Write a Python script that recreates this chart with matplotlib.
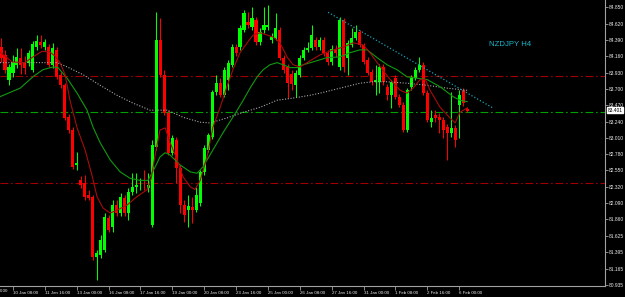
import matplotlib
matplotlib.use("Agg")
import matplotlib.pyplot as plt
import matplotlib.transforms as mtransforms
import numpy as np

# ---------------- data ----------------
opens = [84.29, 84.18, 83.83, 83.92, 84.04, 84.14, 84.08, 84.07, 83.97, 84.29,
         84.36, 84.29, 84.29, 84.04, 84.25, 83.90, 83.75, 83.30, 83.12, 82.63,
         82.41, 82.37, 82.20, 82.18, 81.33, 81.36, 81.43, 81.88, 81.75, 82.06,
         81.95, 82.16, 81.95, 82.25, 82.32, 82.33, 82.34, 82.30, 81.78, 82.88,
         84.39, 83.90, 83.36, 82.80, 82.98, 82.58, 82.06, 81.99, 82.03, 81.99,
         82.09, 82.53, 82.84, 83.02, 83.66, 83.78, 83.61, 83.83, 84.04, 84.29,
         84.29, 84.53, 84.64, 84.57, 84.67, 84.36, 84.53, 84.57, 84.39, 84.42,
         84.53, 84.14, 84.01, 83.91, 83.75, 83.90, 84.14, 84.25, 84.28, 84.39,
         84.29, 84.39, 84.21, 84.08, 84.26, 84.01, 84.67, 84.14, 84.32, 84.42,
         84.50, 84.32, 84.11, 83.94, 83.80, 83.80, 84.01, 83.73, 83.61, 83.85,
         83.59, 83.47, 83.12, 83.73, 83.85, 83.97, 84.04, 83.64, 83.23, 83.33,
         83.30, 83.26, 83.16, 83.08, 83.15, 83.47, 83.68, 83.42]
highs = [84.42, 84.25, 84.05, 84.18, 84.28, 84.28, 84.16, 84.25, 84.37, 84.46,
         84.46, 84.40, 84.33, 84.35, 84.29, 83.94, 83.78, 83.35, 83.16, 82.81,
         82.47, 82.49, 82.28, 82.20, 81.43, 81.64, 81.95, 81.92, 82.13, 82.13,
         82.23, 82.20, 82.30, 82.51, 82.51, 82.44, 82.56, 82.51, 82.98, 84.78,
         84.70, 83.97, 83.40, 83.05, 83.02, 82.63, 82.13, 82.20, 82.18, 82.32,
         82.56, 82.91, 83.08, 83.68, 83.90, 83.85, 84.01, 84.11, 84.33, 84.33,
         84.60, 84.81, 84.78, 84.85, 84.71, 84.56, 84.85, 84.88, 84.49, 84.77,
         84.57, 84.18, 84.05, 83.97, 83.97, 84.18, 84.29, 84.36, 84.60, 84.43,
         84.43, 84.43, 84.25, 84.32, 84.32, 84.71, 84.70, 84.39, 84.56, 84.60,
         84.53, 84.35, 84.15, 83.98, 84.04, 84.05, 84.05, 83.77, 83.83, 83.90,
         83.63, 83.52, 83.71, 83.90, 84.01, 84.15, 84.08, 83.68, 83.40, 83.40,
         83.36, 83.30, 83.20, 83.66, 83.19, 83.68, 83.71, 83.44]
lows = [84.08, 83.92, 83.75, 83.87, 84.00, 83.91, 83.91, 84.02, 83.94, 84.25,
        84.28, 84.25, 84.01, 84.00, 83.84, 83.71, 83.26, 83.08, 82.57, 82.56,
        82.30, 82.13, 82.13, 81.29, 81.00, 81.32, 81.40, 81.68, 81.68, 81.91,
        81.91, 81.91, 81.85, 82.20, 82.23, 82.28, 82.28, 82.25, 81.75, 82.84,
        83.87, 83.33, 82.77, 82.77, 82.37, 81.95, 81.82, 81.75, 81.81, 81.96,
        82.05, 82.49, 82.81, 82.99, 83.61, 83.59, 83.59, 83.68, 84.01, 84.16,
        84.25, 84.50, 84.56, 84.53, 84.32, 84.32, 84.49, 84.53, 84.35, 84.39,
        84.11, 83.92, 83.57, 83.68, 83.59, 83.87, 84.11, 84.22, 84.25, 84.25,
        84.25, 84.16, 84.04, 84.04, 84.15, 83.97, 83.94, 83.90, 84.29, 84.39,
        84.29, 84.05, 83.90, 83.75, 83.61, 83.64, 83.75, 83.54, 83.43, 83.56,
        83.44, 83.09, 83.09, 83.68, 83.83, 83.94, 83.61, 83.23, 83.16, 83.23,
        83.08, 83.01, 82.70, 83.02, 82.88, 83.01, 83.46, 83.37]
closes = [84.14, 83.97, 84.01, 84.08, 84.15, 84.04, 84.00, 84.21, 84.33, 84.37,
          84.32, 84.36, 84.04, 84.28, 83.87, 83.75, 83.29, 83.12, 82.60, 82.65,
          82.34, 82.18, 82.16, 81.33, 81.39, 81.57, 81.89, 81.71, 82.06, 81.95,
          82.18, 81.95, 82.25, 82.32, 82.34, 82.34, 82.33, 82.34, 82.91, 84.39,
          83.90, 83.36, 82.80, 83.01, 82.58, 82.06, 81.92, 82.05, 81.99, 82.20,
          82.53, 82.87, 83.05, 83.66, 83.78, 83.61, 83.97, 84.07, 84.29, 84.21,
          84.56, 84.77, 84.60, 84.70, 84.36, 84.50, 84.60, 84.60, 84.43, 84.56,
          84.14, 83.97, 83.78, 83.77, 83.92, 84.14, 84.25, 84.28, 84.46, 84.29,
          84.39, 84.21, 84.08, 84.26, 84.21, 84.67, 84.01, 84.35, 84.42, 84.50,
          84.32, 84.08, 83.92, 83.80, 83.83, 84.01, 83.80, 83.61, 83.80, 83.59,
          83.47, 83.12, 83.68, 83.85, 83.97, 84.04, 83.64, 83.26, 83.29, 83.29,
          83.26, 83.12, 83.08, 83.15, 82.98, 83.61, 83.50, 83.39]

# moving averages (bar index, price)
red_ma_idx = [-0.25, 2.8, 6, 8, 10.3, 12.3, 13.6, 14.8, 16.1, 17.3, 19.1, 21.1, 22.8, 24.1,
              25.6, 27.4, 29.1, 31.6, 34.1, 36.7, 37.7, 38.7, 39.9, 41.2, 42.4, 44.2, 45.7,
              47.5, 48.7, 50, 51.7, 53.2, 55, 56.7, 58.2, 60, 61.8, 63.3, 65, 66.8, 68.3,
              70, 71.8, 73.3, 75.1, 76.8, 80.1, 83.4, 85.9, 88.4, 90.9, 92.6, 95.2, 97.7,
              100.2, 101.9, 103.4, 105.2, 106.5, 107.7, 110.2, 112.7, 114, 115.2, 117]
red_ma_val = [84.22, 84.08, 84.07, 84.15, 84.23, 84.22, 84.16, 84.07, 83.90, 83.54, 83.15,
              82.84, 82.49, 82.18, 82.02, 81.95, 81.99, 82.06, 82.18, 82.28, 82.44, 82.77,
              83.12, 83.15, 82.95, 82.70, 82.46, 82.32, 82.28, 82.41, 82.74, 83.16, 83.44,
              83.73, 83.97, 84.21, 84.35, 84.46, 84.49, 84.46, 84.43, 84.35, 84.15, 84.04,
              84.01, 84.07, 84.18, 84.25, 84.29, 84.35, 84.32, 84.21, 84.01, 83.83, 83.68,
              83.64, 83.71, 83.83, 83.83, 83.68, 83.44, 83.29, 83.22, 83.37, 83.43]
green_ma_idx = [-0.25, 4.8, 8, 10.5, 13.1, 14.3, 16.6, 19.1, 21.6, 23.1, 24.9, 27.4, 29.9,
                32.4, 34.9, 36.9, 38.7, 39.9, 41.2, 42.4, 44.9, 47.5, 49.2, 50.7, 53.2,
                55.7, 58.2, 60.8, 62.5, 64.3, 65.8, 67.5, 69.3, 70.8, 72.6, 74.3, 75.8,
                78.3, 81.8, 85.1, 87.6, 90.1, 91.9, 94.4, 96.9, 99.4, 101.9, 104.4, 107,
                110.2, 113.5, 115.2, 117]
green_ma_val = [83.59, 83.71, 83.87, 83.97, 84.01, 84.00, 83.85, 83.64, 83.40, 83.16, 82.94,
                82.70, 82.53, 82.44, 82.41, 82.41, 82.60, 82.74, 82.80, 82.77, 82.63, 82.53,
                82.51, 82.60, 82.84, 83.08, 83.30, 83.54, 83.71, 83.87, 83.97, 84.04, 84.07,
                84.04, 84.00, 84.00, 84.04, 84.08, 84.14, 84.15, 84.21, 84.25, 84.25, 84.14,
                84.04, 83.97, 83.87, 83.85, 83.83, 83.73, 83.59, 83.54, 83.52]
gray_ma_idx = [-0.25, 8, 14.1, 16.6, 20.6, 24.9, 29.1, 33.1, 37.4, 41.7, 45.7, 50, 52.5,
               56.7, 60.8, 65, 69.3, 73.3, 77.6, 80.1, 85.1, 90.1, 93.4, 96.9, 101.9, 107,
               112, 117]
gray_ma_val = [84.07, 84.07, 84.07, 84.01, 83.90, 83.75, 83.61, 83.50, 83.40, 83.40, 83.30,
               83.23, 83.22, 83.29, 83.37, 83.44, 83.54, 83.57, 83.61, 83.64, 83.71, 83.78,
               83.80, 83.80, 83.78, 83.75, 83.71, 83.68]

# horizontal levels and trend line
red_levels = [83.88, 82.37]
green_level = 83.37
trend_idx = [82.1, 123.5]
trend_val = [84.78, 83.43]

price_ticks = [84.850, 84.620, 84.390, 84.160, 83.930, 83.700, 83.470, 83.240, 83.010,
               82.780, 82.550, 82.320, 82.090, 81.860, 81.625, 81.395, 81.165, 80.935]
price_labels = ["84.850", "84.620", "84.390", "84.160", "83.930", "83.700", "83.470",
                "83.240", "83.010", "82.780", "82.550", "82.320", "82.090", "81.860",
                "81.625", "81.395", "81.165", "80.935"]
current_price = 83.40
current_label = "83.401"

edge_time_label = "0:00"   # visible tail of the label cut by the left edge
time_idx = [3, 11, 19, 27, 35, 43, 51, 59, 67, 75, 83, 91, 99, 107, 115]
time_labels = ["10 Jan 08:00", "11 Jan 16:00", "13 Jan 00:00", "16 Jan 08:00",
               "17 Jan 16:00", "19 Jan 00:00", "20 Jan 08:00", "23 Jan 16:00", "25 Jan 00:00",
               "26 Jan 08:00", "27 Jan 16:00", "31 Jan 00:00", "1 Feb 08:00", "2 Feb 16:00",
               "6 Feb 00:00"]
title = "NZDJPY H4"

# ---------------- drawing ----------------
W, H = 625, 297
FONT = "Liberation Sans"
fig = plt.figure(figsize=(W / 100, H / 100), dpi=100, facecolor="black")
ax = fig.add_axes([0, 11 / H, 605 / W, 286 / H])
ax.set_facecolor("black")

o = np.array(opens); c = np.array(closes); hi = np.array(highs); lo = np.array(lows)
x = np.arange(len(o))
up = c >= o
bull = "#00ff00"
bear = "#ff0000"
cols = np.where(up, bull, bear)

# levels
dd = (0, (7, 2.5, 1.5, 2.5))
for lv in red_levels:
    ax.axhline(lv, color="#a00000", lw=0.8, linestyle=dd, zorder=1)
ax.axhline(green_level, color="#00a000", lw=0.8, linestyle=dd, zorder=1)

# wicks
ax.vlines(x, lo, hi, colors=cols, lw=0.75, zorder=2)
# bodies
small = np.abs(c - o) < 0.012
body_h = np.where(small, 0.012, np.abs(c - o))
body_b = np.minimum(o, c) - np.where(small, 0.006, 0)
ax.bar(x, body_h, bottom=body_b, width=0.78, color=cols, edgecolor=cols,
       linewidth=0.0, zorder=3)

# moving averages
ax.plot(gray_ma_idx, gray_ma_val, color="#a8a8a8", lw=0.8, linestyle=(0, (1, 1.5)), zorder=4)
ax.plot(green_ma_idx, green_ma_val, color="#109a10", lw=0.8, zorder=4)
ax.plot(red_ma_idx, red_ma_val, color="#a80c0c", lw=0.8, zorder=5)

# trend line
ax.plot(trend_idx, trend_val, color="#1aa2b4", lw=0.9, linestyle=(0, (1, 1.6)), zorder=5)

# title
ax.text(122.6, 84.33, title, color="#19b6cb", fontsize=5.6, family=FONT,
        ha="left", va="center", zorder=6)

# spines
for s in ["top", "left"]:
    ax.spines[s].set_visible(False)
for s in ["right", "bottom"]:
    ax.spines[s].set_color("#a0a0a0")
    ax.spines[s].set_linewidth(0.8)

ax.yaxis.tick_right()
ax.set_yticks(price_ticks)
ax.set_yticklabels(price_labels)
ax.tick_params(axis="y", colors="#a0a0a0", length=2.0, width=0.6, pad=0.6,
               labelsize=3.5, labelcolor="#ececec")
for t in ax.get_yticklabels():
    t.set_family(FONT)

ax.set_xticks(time_idx)
ax.set_xticklabels(time_labels, ha="left")
ax.tick_params(axis="x", colors="#a0a0a0", length=3, width=0.6, pad=0.5,
               labelsize=3.15, labelcolor="#ececec")
for t in ax.get_xticklabels():
    t.set_family(FONT)

# limits after ticks (set_xticks may expand them)
ax.set_xlim(-0.25, 151.6)
ax.set_ylim(80.921, 84.953)

# tail of the time label cut by the left edge
ax.text(0.0, -0.012, edge_time_label, transform=ax.transAxes, ha="left", va="top",
        fontsize=3.15, family=FONT, color="#ececec", clip_on=False)

# current price box
ax.text(1.004, current_price, current_label, transform=ax.get_yaxis_transform(),
        fontsize=3.5, family=FONT, color="black", ha="left", va="center",
        bbox=dict(boxstyle="square,pad=0.15", facecolor="white", edgecolor="white"),
        clip_on=False, zorder=10)

fig.savefig("out.png", dpi=100, facecolor="black")
